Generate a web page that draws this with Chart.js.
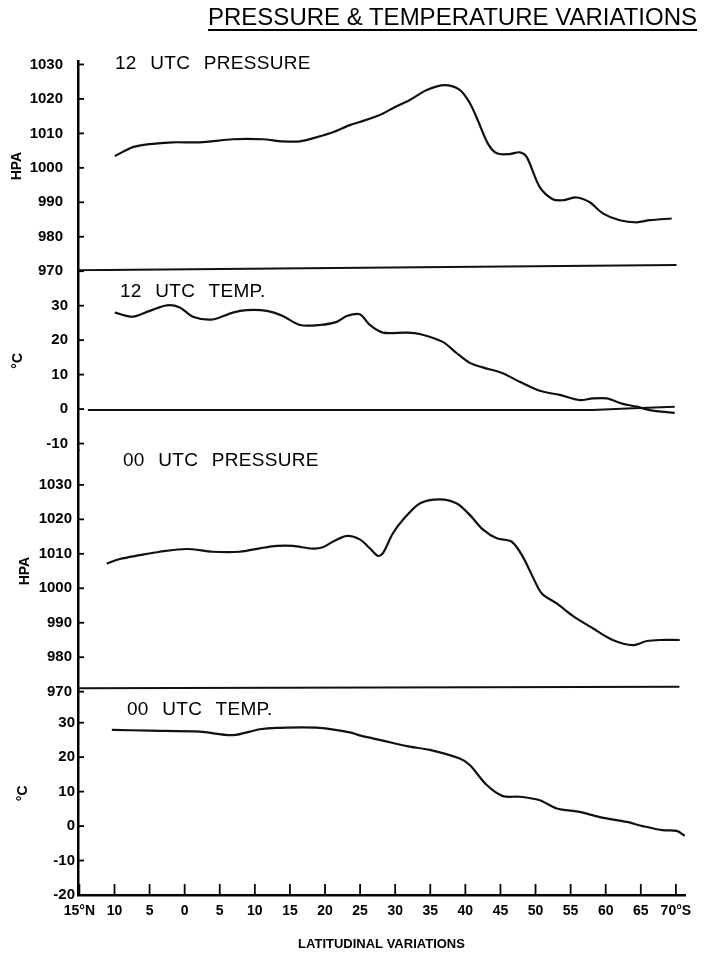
<!DOCTYPE html>
<html>
<head>
<meta charset="utf-8">
<script src="https://cdn.jsdelivr.net/npm/chart.js@4.4.1/dist/chart.umd.min.js"></script>
<style>
  html, body { margin: 0; padding: 0; background: #fff; }
  #wrap { position: relative; width: 720px; height: 956px; overflow: hidden; background: #fff; }
  #c { position: absolute; left: 0; top: 0; }
  .t { position: absolute; font-family: "Liberation Sans", Arial, sans-serif; color: #000; white-space: nowrap; }
  #title { right: 23px; top: 5px; font-size: 24px; line-height: 24px; text-decoration: underline; text-decoration-thickness: 2px; text-underline-offset: 4px; }
  .pl { font-size: 19px; line-height: 19px; letter-spacing: 0.3px; word-spacing: 8px; }
</style>
</head>
<body>
<div id="wrap">
  <canvas id="c" width="720" height="956" style="width:720px;height:956px"></canvas>
  <div id="title" class="t">PRESSURE &amp; TEMPERATURE VARIATIONS</div>
  <div class="t pl" style="left:115px;top:53px">12 UTC PRESSURE</div>
  <div class="t pl" style="left:120px;top:281px">12 UTC TEMP.</div>
  <div class="t pl" style="left:123px;top:450px">00 UTC PRESSURE</div>
  <div class="t pl" style="left:127px;top:699px">00 UTC TEMP.</div>
</div>
<script>
// ---- tick labels ----
const xTickValues = [-15, -10, -5, 0, 5, 10, 15, 20, 25, 30, 35, 40, 45, 50, 55, 60, 65, 70];
const xTickLabels = ['15°N', '10', '5', '0', '5', '10', '15', '20', '25', '30', '35', '40', '45', '50', '55', '60', '65', '70°S'];
const pressTicks = [1030, 1020, 1010, 1000, 990, 980, 970];
const temp12Ticks = [30, 20, 10, 0, -10];
const temp00Ticks = [30, 20, 10, 0, -10, -20];

// ---- 12 UTC pressure (hPa) ----
const lat12P = [-9.96, -7.39, -4.97, -1.69, 2.16, 6.86, 11.13, 13.98, 16.41, 18.83, 21.11, 23.53, 24.95, 27.80, 29.66, 32.08, 34.50, 37.07, 39.20, 40.63, 41.77, 43.19, 44.48, 46.33, 47.75, 48.75, 50.60, 52.46, 53.88, 55.87, 57.73, 59.58, 62.00, 64.42, 66.28, 69.41];
const pres12 = [1003.4, 1006.0, 1006.9, 1007.4, 1007.4, 1008.3, 1008.3, 1007.7, 1007.7, 1008.9, 1010.3, 1012.4, 1013.3, 1015.3, 1017.3, 1019.7, 1022.6, 1024.0, 1022.6, 1018.8, 1013.8, 1007.1, 1004.2, 1004.0, 1004.5, 1003.1, 994.4, 990.9, 990.6, 991.4, 990.0, 986.8, 984.8, 984.2, 984.8, 985.3];
const base12PLat = [-15.2, 70.1];
const base12P = [970.3, 971.8];

// ---- 12 UTC temperature (°C) ----
const lat12T = [-9.96, -7.39, -4.97, -2.55, -0.69, 1.16, 4.01, 6.86, 8.85, 11.70, 13.98, 16.41, 19.25, 21.68, 23.10, 24.95, 26.38, 28.23, 31.65, 33.50, 36.78, 38.78, 40.63, 42.48, 45.33, 47.75, 50.60, 53.45, 56.30, 58.15, 60.15, 62.43, 64.42, 66.28, 69.84];
const temp12 = [28.0, 26.8, 28.5, 30.1, 29.5, 26.8, 26.0, 28.0, 28.7, 28.5, 27.0, 24.4, 24.4, 25.3, 27.0, 27.5, 24.4, 22.2, 22.2, 21.8, 19.5, 16.2, 13.4, 12.1, 10.4, 7.9, 5.3, 4.1, 2.6, 3.1, 3.1, 1.5, 0.7, -0.3, -1.1];
const zero12TLat = [-13.8, 58.15, 63.0, 69.84];
const zero12T = [-0.3, -0.3, 0.2, 0.7];

// ---- 00 UTC pressure (hPa) ----
const lat00P = [-11.10, -9.24, -6.39, -3.54, 0.30, 4.01, 7.86, 10.71, 13.13, 15.41, 18.26, 19.68, 21.11, 23.10, 24.95, 26.38, 27.52, 28.23, 29.66, 31.08, 33.50, 36.35, 38.78, 40.63, 42.48, 44.48, 46.61, 48.18, 49.61, 50.89, 53.02, 55.31, 58.15, 61.00, 63.85, 65.85, 67.70, 70.55];
const pres00 = [1007.2, 1008.5, 1009.6, 1010.6, 1011.4, 1010.6, 1010.6, 1011.6, 1012.3, 1012.3, 1011.5, 1011.9, 1013.5, 1015.2, 1014.2, 1011.6, 1009.4, 1010.1, 1015.9, 1019.8, 1024.6, 1025.8, 1024.6, 1021.3, 1017.1, 1014.5, 1013.5, 1009.2, 1003.3, 998.5, 995.6, 992.0, 988.4, 985.0, 983.5, 984.7, 985.0, 985.0];
const base00PLat = [-15.2, 70.5];
const base00P = [971.0, 971.4];

// ---- 00 UTC temperature (°C) ----
const lat00T = [-10.38, -4.97, 2.16, 6.86, 10.71, 13.13, 19.25, 23.53, 24.95, 28.23, 31.65, 34.93, 39.20, 40.63, 43.05, 45.33, 47.75, 50.60, 53.02, 56.30, 59.15, 63.00, 65.28, 68.13, 70.12, 71.26];
const temp00 = [27.9, 27.7, 27.4, 26.4, 28.1, 28.5, 28.5, 27.2, 26.3, 24.8, 23.2, 22.1, 19.6, 17.7, 11.9, 8.7, 8.5, 7.5, 5.1, 4.1, 2.6, 1.2, 0.0, -1.2, -1.4, -2.8];

const pts = (xs, ys) => xs.map((x, i) => ({ x: x, y: ys[i] }));

function lineDs(data, yAxisID, width, tension) {
  return {
    data: data, yAxisID: yAxisID, xAxisID: 'x',
    borderColor: '#111', borderWidth: width, pointRadius: 0, pointHoverRadius: 0,
    fill: false, cubicInterpolationMode: 'default', tension: tension
  };
}

function yScale(min, max, weight, stackWeight, tickArr, title, tickPad, titlePad) {
  return {
    type: 'linear', position: 'left', stack: 'panels', stackWeight: stackWeight, weight: weight,
    min: min, max: max,
    grid: { display: false, drawTicks: false },
    border: { display: true, color: '#000', width: 2.5 },
    ticks: { color: '#000', font: { size: 15, weight: 'bold' }, padding: tickPad, autoSkip: false,
             callback: (v) => String(v) },
    afterBuildTicks: (s) => { s.ticks = tickArr.map(v => ({ value: v })); },
    afterFit: (s) => { s.width = 78; },
    title: { display: true, text: title, color: '#000', font: { size: 14, weight: 'bold' }, padding: { top: titlePad, bottom: 0 } }
  };
}

const innerTicks = {
  id: 'innerTicks',
  afterDraw(chart) {
    const ctx = chart.ctx, area = chart.chartArea;
    ctx.save();
    ctx.strokeStyle = '#000';
    ctx.lineWidth = 1.8;
    ['yP12', 'yT12', 'yP00', 'yT00'].forEach(id => {
      const s = chart.scales[id];
      s.ticks.forEach(t => {
        const y = s.getPixelForValue(t.value);
        ctx.beginPath(); ctx.moveTo(area.left, y); ctx.lineTo(area.left + 6, y); ctx.stroke();
      });
    });
    const xs = chart.scales.x;
    xs.ticks.forEach(t => {
      const x = xs.getPixelForValue(t.value);
      ctx.beginPath(); ctx.moveTo(x, area.bottom); ctx.lineTo(x, area.bottom - 11); ctx.stroke();
    });
    ctx.restore();
  }
};

Chart.defaults.font.family = "'Liberation Sans', Arial, sans-serif";
Chart.defaults.color = '#000';

new Chart(document.getElementById('c'), {
  type: 'line',
  data: {
    datasets: [
      lineDs(pts(lat12P, pres12), 'yP12', 2.2, 0.3),
      lineDs(pts(base12PLat, base12P), 'yP12', 2, 0),
      lineDs(pts(lat12T, temp12), 'yT12', 2.2, 0.3),
      lineDs(pts(zero12TLat, zero12T), 'yT12', 2, 0),
      lineDs(pts(lat00P, pres00), 'yP00', 2.2, 0.3),
      lineDs(pts(base00PLat, base00P), 'yP00', 2, 0),
      lineDs(pts(lat00T, temp00), 'yT00', 2.2, 0.3)
    ]
  },
  options: {
    responsive: false,
    animation: false,
    events: [],
    layout: { padding: { top: 61, right: 35, bottom: 0, left: 0 } },
    plugins: { legend: { display: false }, tooltip: { enabled: false }, title: { display: false } },
    scales: {
      x: {
        type: 'linear', position: 'bottom', min: -15.2, max: 71.3,
        grid: { display: false, drawTicks: false },
        border: { display: true, color: '#000', width: 2.5 },
        ticks: {
          color: '#000', font: { size: 14, weight: 'bold' }, padding: 8, autoSkip: false, maxRotation: 0,
          callback: (v) => { const i = xTickValues.indexOf(v); return i >= 0 ? xTickLabels[i] : ''; }
        },
        afterBuildTicks: (s) => { s.ticks = xTickValues.map(v => ({ value: v })); },
        afterFit: (s) => { s.height = 61; },
        title: { display: true, text: 'LATITUDINAL VARIATIONS', color: '#000', font: { size: 13, weight: 'bold' }, padding: { top: 0, bottom: 4 } }
      },
      yP12: yScale(970, 1031, 4, 61, pressTicks, 'HPA', 15, 9),
      yT12: yScale(-12, 40, 3, 52, temp12Ticks, '°C', 10, 10),
      yP00: yScale(970, 1040, 2, 70, pressTicks, 'HPA', 6, 17),
      yT00: yScale(-20, 39, 1, 59, temp00Ticks, '°C', 3, 15)
    }
  },
  plugins: [innerTicks]
});
</script>
</body>
</html>
